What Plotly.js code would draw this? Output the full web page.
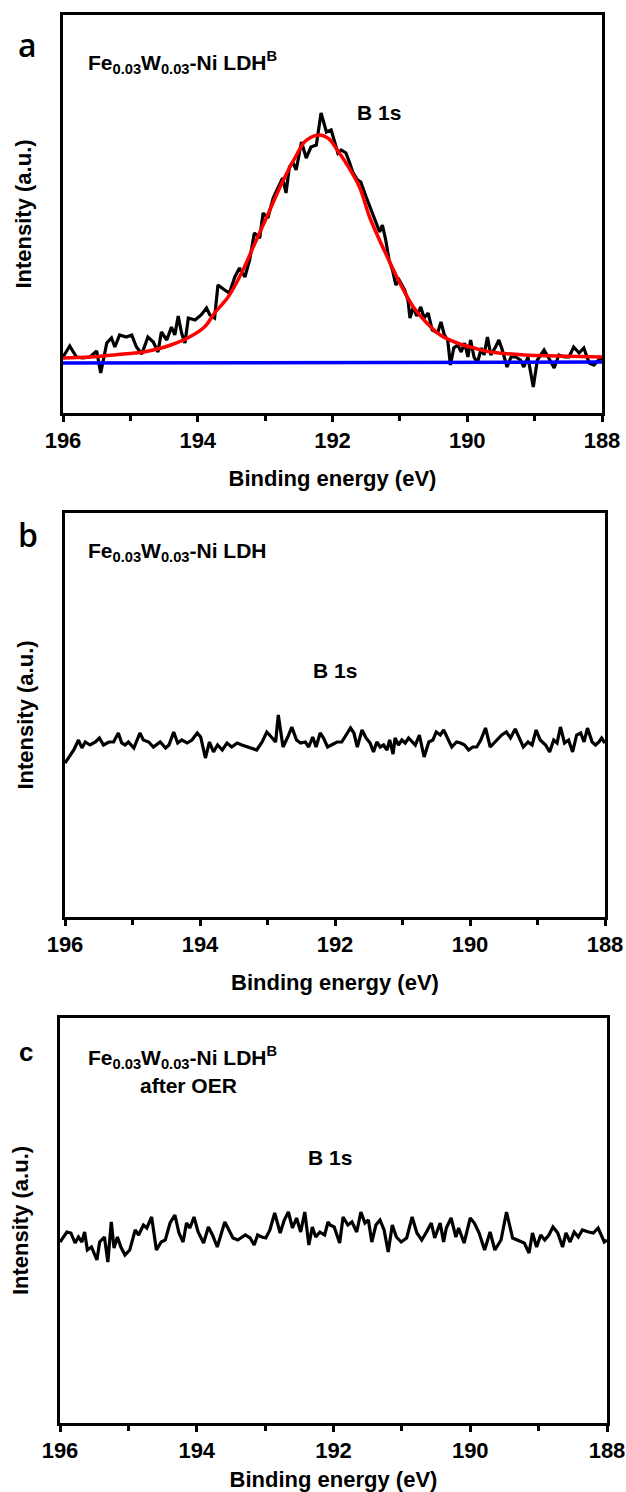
<!DOCTYPE html>
<html>
<head>
<meta charset="utf-8">
<script src="https://cdn.plot.ly/plotly-3.0.1.min.js"></script>
<style>html,body{margin:0;padding:0;background:#fff;}#chart{width:626px;height:1492px;}</style>
</head>
<body>
<div id="chart"></div>
<script>
// ---------- Panel a: Fe0.03W0.03-Ni LDH^B, B 1s ----------
const energyA = [196.00,195.90,195.80,195.70,195.60,195.50,195.44,195.35,195.28,195.23,195.16,195.06,194.98,194.91,194.83,194.74,194.66,194.59,194.54,194.46,194.39,194.34,194.29,194.24,194.19,194.14,194.04,193.95,193.87,193.82,193.75,193.70,193.60,193.53,193.45,193.38,193.30,193.23,193.16,193.08,193.03,192.96,192.88,192.81,192.74,192.69,192.64,192.59,192.54,192.46,192.39,192.32,192.24,192.17,192.09,192.02,191.97,191.92,191.87,191.80,191.75,191.70,191.63,191.58,191.50,191.43,191.35,191.30,191.26,191.21,191.16,191.11,191.06,191.01,190.93,190.88,190.85,190.80,190.75,190.69,190.64,190.58,190.52,190.44,190.39,190.34,190.29,190.25,190.20,190.14,190.09,190.04,189.99,189.95,189.90,189.85,189.79,189.75,189.70,189.65,189.58,189.53,189.48,189.41,189.35,189.28,189.21,189.16,189.10,189.02,188.96,188.86,188.79,188.71,188.64,188.56,188.49,188.42,188.34,188.27,188.19,188.12,188.05,188.00];
const intensityA = [56,67,56,55,56,62,40,70,75,66,78,76,78,66,59,76,71,61,81,73,86,78,97,80,70,95,93,98,105,98,95,128,123,120,136,145,136,153,180,175,200,195,215,225,235,220,246,251,243,271,255,266,268,300,281,283,270,260,263,260,251,241,233,231,216,203,190,181,188,173,153,143,128,133,123,113,95,106,97,106,95,100,83,80,91,78,73,48,65,68,61,70,56,73,56,50,65,58,76,58,66,73,63,46,56,56,53,46,56,26,53,63,55,45,58,56,56,66,60,65,50,48,53,55];
const fitEnergyA = [196.0,195.6,195.1,194.8,194.6,194.4,194.15,193.9,193.75,193.55,193.35,193.15,192.95,192.75,192.55,192.4,192.2,192.05,191.95,191.8,191.6,191.45,191.2,191.0,190.8,190.6,190.4,190.15,189.9,189.65,189.15,188.65,188.0];
const fitIntensityA = [55,56,59,61,64,68,75,86,100,116,140,170,200,230,256,272,278,274,265,250,226,196,158,130,106,90,78,70,65,61,58,57,56];
const baselineEnergyA = [196, 188];
const baselineIntensityA = [50, 51];

// ---------- Panel b: Fe0.03W0.03-Ni LDH, B 1s ----------
const energyB = [196.00,195.93,195.87,195.80,195.75,195.70,195.63,195.55,195.49,195.43,195.35,195.28,195.21,195.16,195.11,195.06,194.98,194.89,194.84,194.76,194.69,194.59,194.51,194.46,194.39,194.33,194.27,194.19,194.12,194.04,193.99,193.92,193.86,193.80,193.74,193.67,193.60,193.53,193.45,193.38,193.30,193.23,193.16,193.08,193.01,192.93,192.88,192.84,192.77,192.70,192.64,192.57,192.51,192.44,192.39,192.33,192.28,192.22,192.17,192.11,192.05,191.97,191.90,191.85,191.77,191.72,191.67,191.60,191.54,191.48,191.43,191.38,191.33,191.28,191.23,191.19,191.14,191.11,191.06,191.01,190.96,190.91,190.86,190.81,190.75,190.68,190.61,190.55,190.50,190.44,190.39,190.33,190.27,190.20,190.14,190.08,190.02,189.96,189.90,189.84,189.77,189.70,189.63,189.58,189.53,189.46,189.40,189.33,189.27,189.21,189.14,189.08,189.02,188.96,188.88,188.82,188.76,188.71,188.66,188.60,188.54,188.48,188.42,188.36,188.31,188.26,188.19,188.14,188.09,188.05,188.00];
const intensityB = [154,161,167,177,169,175,172,175,179,172,175,175,184,174,172,175,169,184,177,175,170,175,169,172,185,174,177,174,177,184,180,159,175,165,172,167,174,170,174,172,170,169,167,175,185,179,175,202,170,180,190,177,174,175,170,180,170,184,179,170,172,175,175,180,189,184,170,187,179,174,165,175,170,172,167,177,163,179,172,177,174,179,175,172,182,160,175,177,185,182,187,179,170,175,174,172,167,170,170,177,189,170,175,179,182,185,179,188,179,170,175,172,187,177,172,165,177,174,190,174,177,165,182,184,175,189,175,172,175,179,174];

// ---------- Panel c: Fe0.03W0.03-Ni LDH^B after OER, B 1s ----------
const energyC = [196.00,195.90,195.84,195.78,195.73,195.68,195.64,195.60,195.54,195.46,195.42,195.35,195.30,195.25,195.21,195.16,195.11,195.05,194.98,194.90,194.85,194.78,194.73,194.66,194.59,194.52,194.46,194.39,194.32,194.26,194.20,194.15,194.10,194.04,193.98,193.90,193.83,193.77,193.70,193.64,193.59,193.53,193.47,193.40,193.34,193.29,193.22,193.16,193.11,193.05,192.99,192.93,192.86,192.78,192.72,192.66,192.60,192.54,192.48,192.42,192.36,192.31,192.26,192.20,192.13,192.08,192.05,191.99,191.91,191.86,191.79,191.73,191.66,191.60,191.54,191.49,191.44,191.38,191.32,191.26,191.20,191.14,191.08,191.01,190.93,190.85,190.78,190.71,190.64,190.57,190.52,190.44,190.39,190.35,190.28,190.21,190.17,190.09,190.00,189.94,189.87,189.79,189.71,189.64,189.55,189.47,189.38,189.30,189.21,189.14,189.09,189.03,188.97,188.91,188.85,188.79,188.72,188.65,188.60,188.54,188.48,188.42,188.36,188.27,188.20,188.13,188.04,188.00];
const intensityC = [181,191,190,180,186,181,191,173,176,163,181,186,161,201,175,186,176,168,173,193,188,198,195,206,173,181,183,200,208,190,181,200,195,206,191,180,196,188,176,191,201,193,185,183,186,188,185,178,188,186,185,193,210,190,203,211,195,205,191,211,178,196,186,191,188,201,198,196,180,206,198,201,191,211,200,203,181,198,203,193,171,198,186,181,185,206,190,183,191,200,185,200,181,195,205,186,195,180,205,200,190,173,191,173,183,211,185,183,180,170,190,176,188,183,188,196,190,176,190,181,191,186,193,191,190,195,181,183];

// ---------- Axis ticks and texts ----------
const tickValues = [196, 194, 192, 190, 188];
const minorTickValues = [195, 193, 191, 189];
const xTitle = 'Binding energy (eV)';
const yTitle = 'Intensity (a.u.)';
const panelLabels = ['a', 'b', 'c'];
const sampleLabels = ['Fe<sub>0.03</sub>W<sub>0.03</sub>-Ni LDH<sup>B</sup>', 'Fe<sub>0.03</sub>W<sub>0.03</sub>-Ni LDH', 'Fe<sub>0.03</sub>W<sub>0.03</sub>-Ni LDH<sup>B</sup>'];
const extraLabelC = 'after OER';
const peakLabel = 'B 1s';

const W = 626, H = 1492;
const px = v => v / W;
const py = v => 1 - v / H;
const FONT = 'Arial, "Liberation Sans", sans-serif';
const bold21 = {family: FONT, size: 21, color: '#000', weight: 'bold'};
const bold22 = {family: FONT, size: 22, color: '#000', weight: 'bold'};

function xAxis(left, right, anchor, standoff) {
  return {
    domain: [px(left), px(right)], anchor: anchor,
    range: [196, 188], tickmode: 'array', tickvals: tickValues,
    ticks: 'outside', ticklen: 6, tickwidth: 3, tickcolor: '#000',
    showline: true, linewidth: 3, linecolor: '#000', mirror: true,
    showgrid: false, zeroline: false, fixedrange: true, automargin: false,
    tickfont: {family: FONT, size: 22, color: '#000', weight: 'bold'},
    minor: {tickmode: 'array', tickvals: minorTickValues, ticks: 'outside', ticklen: 5, tickwidth: 3, tickcolor: '#000', showgrid: false},
    title: {text: xTitle, font: bold22, standoff: standoff}
  };
}
function yAxis(top, bottom, anchor, ymax) {
  return {
    domain: [py(bottom), py(top)], anchor: anchor, range: [0, ymax],
    showline: true, linewidth: 3, linecolor: '#000', mirror: true, automargin: false,
    ticks: '', showticklabels: false, showgrid: false, zeroline: false, fixedrange: true,
    title: {text: yTitle, font: bold22, standoff: 23}
  };
}

const traces = [
  {x: energyA, y: intensityA, xaxis: 'x', yaxis: 'y', mode: 'lines', line: {color: '#000', width: 3.2}},
  {x: baselineEnergyA, y: baselineIntensityA, xaxis: 'x', yaxis: 'y', mode: 'lines', line: {color: '#0000ff', width: 3.5}},
  {x: fitEnergyA, y: fitIntensityA, xaxis: 'x', yaxis: 'y', mode: 'lines', line: {color: '#ff0000', width: 3.5, shape: 'spline', smoothing: 1}},
  {x: energyB, y: intensityB, xaxis: 'x2', yaxis: 'y2', mode: 'lines', line: {color: '#000', width: 3.2}},
  {x: energyC, y: intensityC, xaxis: 'x3', yaxis: 'y3', mode: 'lines', line: {color: '#000', width: 3.2}}
];

function ann(text, x, y, opts) {
  return Object.assign({text: text, x: px(x), y: py(y), xref: 'paper', yref: 'paper', showarrow: false, xanchor: 'center', yanchor: 'middle', font: bold21}, opts || {});
}

const letterFont = {family: '"Open Sans", sans-serif', size: 32, color: '#000', weight: 600};
const annotations = [
  ann(panelLabels[0], 27, 44, {font: letterFont}),
  ann(panelLabels[1], 28, 534, {font: letterFont}),
  ann(panelLabels[2], 26, 1052, {font: {family: FONT, size: 26, color: '#000', weight: 'bold'}}),
  ann(sampleLabels[0], 86, 62, {xanchor: 'left'}),
  ann(sampleLabels[1], 86, 552, {xanchor: 'left'}),
  ann(sampleLabels[2], 86, 1057, {xanchor: 'left'}),
  ann(extraLabelC, 138, 1085, {xanchor: 'left'}),
  ann(peakLabel, 379, 112),
  ann(peakLabel, 335, 670),
  ann(peakLabel, 330, 1157)
];

const layout = {
  width: W, height: H,
  margin: {l: 0, r: 0, t: 0, b: 0, pad: 0},
  paper_bgcolor: '#fff', plot_bgcolor: '#fff',
  showlegend: false,
  xaxis: xAxis(63, 602, 'y', 19),
  yaxis: yAxis(15, 413, 'x', 398),
  xaxis2: xAxis(65, 605, 'y2', 19),
  yaxis2: yAxis(513, 917, 'x2', 404),
  xaxis3: xAxis(60, 607, 'y3', 14),
  yaxis3: yAxis(1018, 1423, 'x3', 405),
  annotations: annotations,
  font: {family: FONT, color: '#000'}
};

Plotly.newPlot('chart', traces, layout, {displayModeBar: false});
</script>
</body>
</html>
